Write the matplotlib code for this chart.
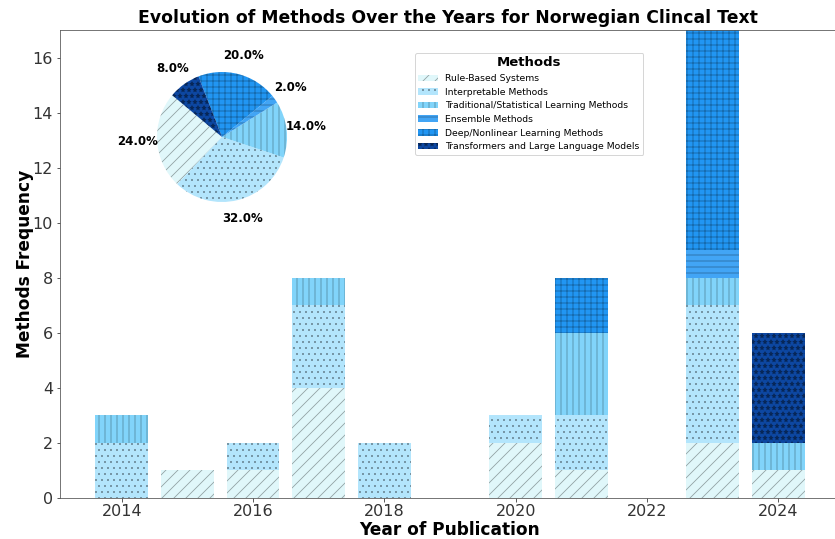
import matplotlib.pyplot as plt
import numpy as np

years = [2014, 2015, 2016, 2017, 2018, 2020, 2021, 2023, 2024]
methods = ['Rule-Based Systems', 'Interpretable Methods',
           'Traditional/Statistical Learning Methods', 'Ensemble Methods',
           'Deep/Nonlinear Learning Methods', 'Transformers and Large Language Models']
rule_based = [0, 1, 1, 4, 0, 2, 1, 2, 1]
interpretable = [2, 0, 1, 3, 2, 1, 2, 5, 0]
traditional = [1, 0, 0, 1, 0, 0, 3, 1, 1]
ensemble = [0, 0, 0, 0, 0, 0, 0, 1, 0]
deep = [0, 0, 0, 0, 0, 0, 2, 8, 0]
transformers = [0, 0, 0, 0, 0, 0, 0, 0, 4]

colors = ['#E0F7FA', '#B3E5FC', '#81D4FA', '#42A5F5', '#2196F3', '#0D47A1']
hatches = ['//', '..', '||', '--', '++', '**']
hatch_col = (0, 0, 0, 0.35)

plt.rcParams['hatch.linewidth'] = 0.8

# 72 dpi so that hatch spacing matches the original
fig = plt.figure(figsize=(835 / 72, 539 / 72), dpi=72)
ax = fig.add_axes([60 / 835, 41 / 539, 780 / 835, 468 / 539])

series = [rule_based, interpretable, traditional, ensemble, deep, transformers]
bottom = np.zeros(len(years))
for vals, name, c, h in zip(series, methods, colors, hatches):
    vals = np.array(vals, dtype=float)
    ax.bar(years, vals, width=0.8, bottom=bottom, color=c, hatch=h,
           edgecolor=hatch_col, linewidth=0, label=name)
    bottom += vals

ax.set_ylim(0, 17)
ax.set_xticks([2014, 2016, 2018, 2020, 2022, 2024])
ax.tick_params(labelsize=16, colors='#333333')
ax.tick_params(axis='x', pad=2.5)
for s in ['left', 'bottom', 'top', 'right']:
    ax.spines[s].set_color('#555555')
ax.set_xlabel('Year of Publication', fontsize=17, fontweight='bold')
ax.xaxis.set_label_coords(0.5, -0.049)
ax.set_ylabel('Methods Frequency', fontsize=17, fontweight='bold', labelpad=-1)
fig.text(448 / 835, 1 - 18 / 539,
         'Evolution of Methods Over the Years for Norwegian Clincal Text',
         ha='center', va='center', fontsize=17.2, fontweight='bold')

leg = ax.legend(title='Methods', fontsize=9.3, loc='upper left',
                bbox_to_anchor=(410 / 835, 1 - 48 / 539),
                bbox_transform=fig.transFigure, handlelength=2.1,
                labelspacing=0.5, borderpad=0.4)
leg.get_title().set_fontweight('bold')
leg.get_title().set_fontsize(13.2)

# pie of totals
totals = [sum(s) for s in series]
pax = fig.add_axes([140.75 / 835, (539 - 218.25) / 539, 162.5 / 835, 162.5 / 539])
wedges, texts, autotexts = pax.pie(totals, colors=colors, startangle=140,
                                   autopct='%1.1f%%', pctdistance=1.3,
                                   wedgeprops=dict(edgecolor=hatch_col, linewidth=0))
for w, h in zip(wedges, hatches):
    w.set_hatch(h)
for t in autotexts:
    t.set_fontsize(11.8)
    t.set_fontweight('bold')

fig.savefig('out.png', dpi=72)
